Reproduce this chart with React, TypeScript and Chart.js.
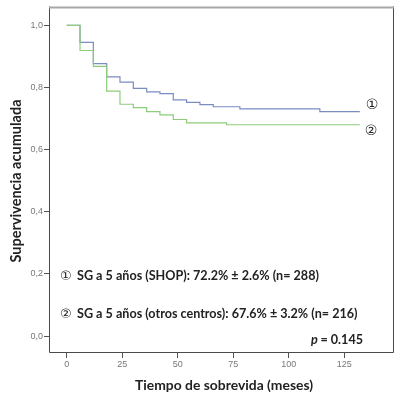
import React, { useEffect, useRef } from "react";
import { Chart, registerables } from "chart.js";

Chart.register(...registerables);

// Kaplan–Meier step data (time in months, cumulative survival)
const shopTimes = [0, 6, 12, 18, 24, 30, 36, 42, 48, 54, 60, 66, 78, 114, 132];
const shopSurv = [1.0, 0.945, 0.877, 0.834, 0.817, 0.797, 0.786, 0.78, 0.76, 0.752, 0.745, 0.738, 0.731, 0.722, 0.722];

const otrosTimes = [0, 6, 12, 18, 24, 30, 36, 42, 48, 54, 72, 132];
const otrosSurv = [1.0, 0.919, 0.868, 0.788, 0.746, 0.735, 0.722, 0.712, 0.697, 0.686, 0.68, 0.68];

const xTicks = [0, 25, 50, 75, 100, 125];
const yTicks = [0, 0.2, 0.4, 0.6, 0.8, 1.0];

const xTitle = "Tiempo de sobrevida (meses)";
const yTitle = "Supervivencia acumulada";
const note1 = "SG a 5 años (SHOP): 72.2% ± 2.6% (n= 288)";
const note2 = "SG a 5 años (otros centros): 67.6% ± 3.2% (n= 216)";
const pText = "= 0.145";

const toPoints = (t: number[], s: number[]) => t.map((x, i) => ({ x, y: s[i] }));

const overlay = {
  id: "overlay",
  afterDraw(chart: any) {
    const { ctx, chartArea: a } = chart;
    ctx.save();
    // plot frame
    ctx.strokeStyle = "#4a4a4a";
    ctx.lineWidth = 1;
    ctx.beginPath();
    ctx.moveTo(a.left + 0.5, a.top);
    ctx.lineTo(a.left + 0.5, a.bottom - 0.5);
    ctx.lineTo(a.right - 0.5, a.bottom - 0.5);
    ctx.lineTo(a.right - 0.5, a.top);
    ctx.stroke();
    ctx.strokeStyle = "#a8a8a8";
    ctx.lineWidth = 2;
    ctx.beginPath();
    ctx.moveTo(a.left, a.top + 1);
    ctx.lineTo(a.right, a.top + 1);
    ctx.stroke();

    ctx.fillStyle = "#222";
    ctx.textBaseline = "middle";

    // curve labels
    ctx.font = "14px 'DejaVu Sans'";
    ctx.textAlign = "center";
    ctx.fillText("\u2460", a.left + 323, a.top + 99);
    ctx.fillText("\u2461", a.left + 322, a.top + 125);

    // annotations
    ctx.textAlign = "left";
    ctx.font = "13px 'DejaVu Sans'";
    ctx.fillText("\u2460", a.left + 11, a.top + 270);
    ctx.fillText("\u2461", a.left + 11, a.top + 308);
    ctx.font = "bold 12.6px Lato";
    ctx.fillText(note1, a.left + 28, a.top + 270);
    ctx.fillText(note2, a.left + 28, a.top + 308);

    ctx.textAlign = "right";
    ctx.fillText(pText, a.left + 314, a.top + 334);
    const w = ctx.measureText(pText).width;
    ctx.font = "italic bold 12.6px Lato";
    ctx.fillText("p ", a.left + 314 - w, a.top + 334);

    // axis titles
    ctx.textAlign = "center";
    ctx.font = "bold 13.9px Lato";
    ctx.fillText(xTitle, 224, 386);
    ctx.save();
    ctx.font = "bold 14.5px Lato";
    ctx.translate(16, 181);
    ctx.rotate(-Math.PI / 2);
    ctx.fillText(yTitle, 0, 0);
    ctx.restore();
    ctx.restore();
  },
};

export default function App() {
  const ref = useRef<HTMLCanvasElement>(null);
  useEffect(() => {
    if (!ref.current) return;
    const tickFont = { family: "'Liberation Sans'", size: 9 };
    const chart = new Chart(ref.current, {
      type: "line",
      data: {
        datasets: [
          {
            label: "SG (otros centros)",
            data: toPoints(otrosTimes, otrosSurv),
            borderColor: "#8ccc7c",
            borderWidth: 1.2,
            pointRadius: 0,
            stepped: "before",
            fill: false,
            order: 0,
          },
          {
            label: "SG (SHOP)",
            data: toPoints(shopTimes, shopSurv),
            borderColor: "#7b8cc0",
            borderWidth: 1.2,
            pointRadius: 0,
            stepped: "before",
            fill: false,
            order: 1,
          },
        ],
      },
      options: {
        responsive: false,
        animation: false,
        layout: { padding: { left: 0, right: 7, top: 5, bottom: 0 } },
        plugins: { legend: { display: false }, tooltip: { enabled: false } },
        scales: {
          x: {
            type: "linear",
            min: -7.97,
            max: 147.4,
            afterBuildTicks: (s: any) => {
              s.ticks = xTicks.map((v) => ({ value: v }));
            },
            afterFit: (s: any) => {
              s.height = 43;
            },
            grid: { drawOnChartArea: false, drawTicks: true, tickLength: 5, color: "#555" },
            border: { display: false },
            ticks: { font: tickFont, color: "#777", padding: 1, maxRotation: 0, callback: (v: any) => String(v) },
          },
          y: {
            type: "linear",
            min: -0.0545,
            max: 1.0609,
            afterBuildTicks: (s: any) => {
              s.ticks = yTicks.map((v) => ({ value: v }));
            },
            afterFit: (s: any) => {
              s.width = 49;
            },
            grid: { drawOnChartArea: false, drawTicks: true, tickLength: 5, color: "#555" },
            border: { display: false },
            ticks: {
              font: tickFont,
              color: "#777",
              padding: 1,
              callback: (v: any) => Number(v).toFixed(1).replace(".", ","),
            },
          },
        },
      },
      plugins: [overlay],
    });
    return () => chart.destroy();
  }, []);
  return (
    <div style={{ position: "fixed", left: 0, top: 0, width: 401, height: 396, background: "#fff" }}>
      <canvas ref={ref} width={401} height={396} />
    </div>
  );
}
